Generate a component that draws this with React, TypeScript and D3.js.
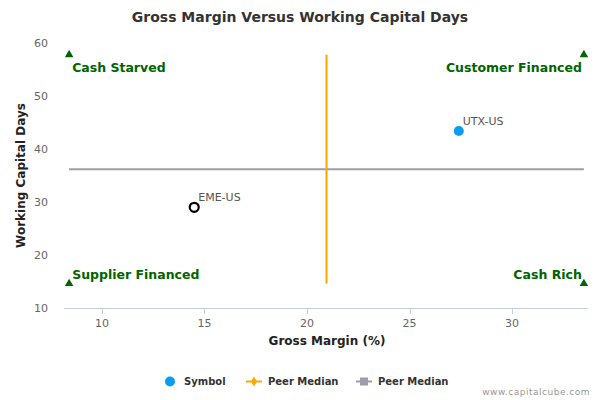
import * as d3 from 'd3';

const symbols = ['UTX-US', 'EME-US'];
const grossMargin = [27.4, 14.5];
const workingCapitalDays = [43.4, 29.0];
const symbolStyle = ['filled', 'hollow'];

const peerMedianMargin = 20.95;
const peerMedianDays = 36.2;

const quadrantLabels = ['Cash Starved', 'Customer Financed', 'Supplier Financed', 'Cash Rich'];
const quadrantMargin = [8.4, 33.5, 8.4, 33.5];
const quadrantDays = [57.8, 57.8, 14.6, 14.6];

const xTicks = [10, 15, 20, 25, 30];
const yTicks = [10, 20, 30, 40, 50, 60];

const FONT = '"DejaVu Sans", Verdana, sans-serif';

export default function App() {
  const width = 600;
  const height = 400;
  const x = d3.scaleLinear().domain([8.15, 33.7]).range([64, 588]);
  const y = d3.scaleLinear().domain([10, 60]).range([308, 43]);
  const tri = d3.symbol().type(d3.symbolTriangle).size(32)()!;

  const xMin = d3.min(quadrantMargin)!;
  const xMax = d3.max(quadrantMargin)!;
  const yMin = d3.min(quadrantDays)!;
  const yMax = d3.max(quadrantDays)!;

  return (
    <svg width={width} height={height} style={{ position: 'absolute', left: 0, top: 0, fontFamily: FONT }}>
      <rect width={width} height={height} fill="#fff" />
      <text x={300} y={22} textAnchor="middle" fontSize={14} fontWeight="bold" fill="#333">
        Gross Margin Versus Working Capital Days
      </text>

      {/* y tick labels */}
      {yTicks.map((t) => (
        <text key={t} x={48} y={y(t) + 4} textAnchor="end" fontSize={11} fill="#666">{t}</text>
      ))}

      {/* x axis */}
      <line x1={64} x2={588} y1={308.5} y2={308.5} stroke="#C0D0E0" />
      {xTicks.map((t) => (
        <g key={t}>
          <line x1={Math.round(x(t)) + 0.5} x2={Math.round(x(t)) + 0.5} y1={308} y2={314} stroke="#C0D0E0" />
          <text x={x(t)} y={327} textAnchor="middle" fontSize={11} fill="#666">{t}</text>
        </g>
      ))}

      <text x={327} y={345} textAnchor="middle" fontSize={12} fontWeight="bold" fill="#222">Gross Margin (%)</text>
      <text transform={`translate(25, ${y(35)}) rotate(-90)`} textAnchor="middle" fontSize={12} fontWeight="bold" fill="#222">
        Working Capital Days
      </text>

      {/* peer median lines */}
      <line x1={x(xMin)} x2={x(xMax)} y1={y(peerMedianDays)} y2={y(peerMedianDays)} stroke="#9D9DAB" strokeWidth={2} />
      <line x1={x(peerMedianMargin)} x2={x(peerMedianMargin)} y1={y(yMax)} y2={y(yMin)} stroke="#FFA500" strokeWidth={2} />

      {/* quadrant markers */}
      {quadrantLabels.map((lab, i) => {
        const px = x(quadrantMargin[i]);
        const py = y(quadrantDays[i]);
        const left = i % 2 === 0;
        const top = i < 2;
        return (
          <g key={lab}>
            <path d={tri} transform={`translate(${px},${py})`} fill="#006400" />
            <text
              x={left ? px + 3 : px - 2}
              y={top ? py + 17 : py - 5}
              textAnchor={left ? 'start' : 'end'}
              fontSize={12.5}
              fontWeight="bold"
              fill="#006400"
            >
              {lab}
            </text>
          </g>
        );
      })}

      {/* symbols */}
      {symbols.map((s, i) => {
        const px = x(grossMargin[i]);
        const py = y(workingCapitalDays[i]);
        return (
          <g key={s}>
            {symbolStyle[i] === 'filled' ? (
              <circle cx={px} cy={py} r={5} fill="#0A9CF0" />
            ) : (
              <circle cx={px} cy={py} r={4.5} fill="#fff" stroke="#000" strokeWidth={2.2} />
            )}
            <text x={px + 4} y={py - 6} fontSize={11} fill="#555">{s}</text>
          </g>
        );
      })}

      {/* legend */}
      <g fontSize={10} fontWeight="bold" fill="#333">
        <circle cx={170} cy={381.5} r={5} fill="#0A9CF0" />
        <text x={184} y={385}>Symbol</text>
        <line x1={246} x2={262} y1={381.5} y2={381.5} stroke="#FFA500" strokeWidth={2} />
        <path d={d3.symbol().type(d3.symbolDiamond).size(30)()!} transform="translate(254,381.5)" fill="#FFA500" />
        <text x={268} y={385}>Peer Median</text>
        <line x1={356} x2={372} y1={381.5} y2={381.5} stroke="#9D9DAB" strokeWidth={2} />
        <rect x={360} y={377.5} width={8} height={8} fill="#9D9DAB" />
        <text x={378} y={385}>Peer Median</text>
      </g>
      <text x={590} y={395} textAnchor="end" fontSize={9} fill="#999" letterSpacing={0.5}>www.capitalcube.com</text>
    </svg>
  );
}
